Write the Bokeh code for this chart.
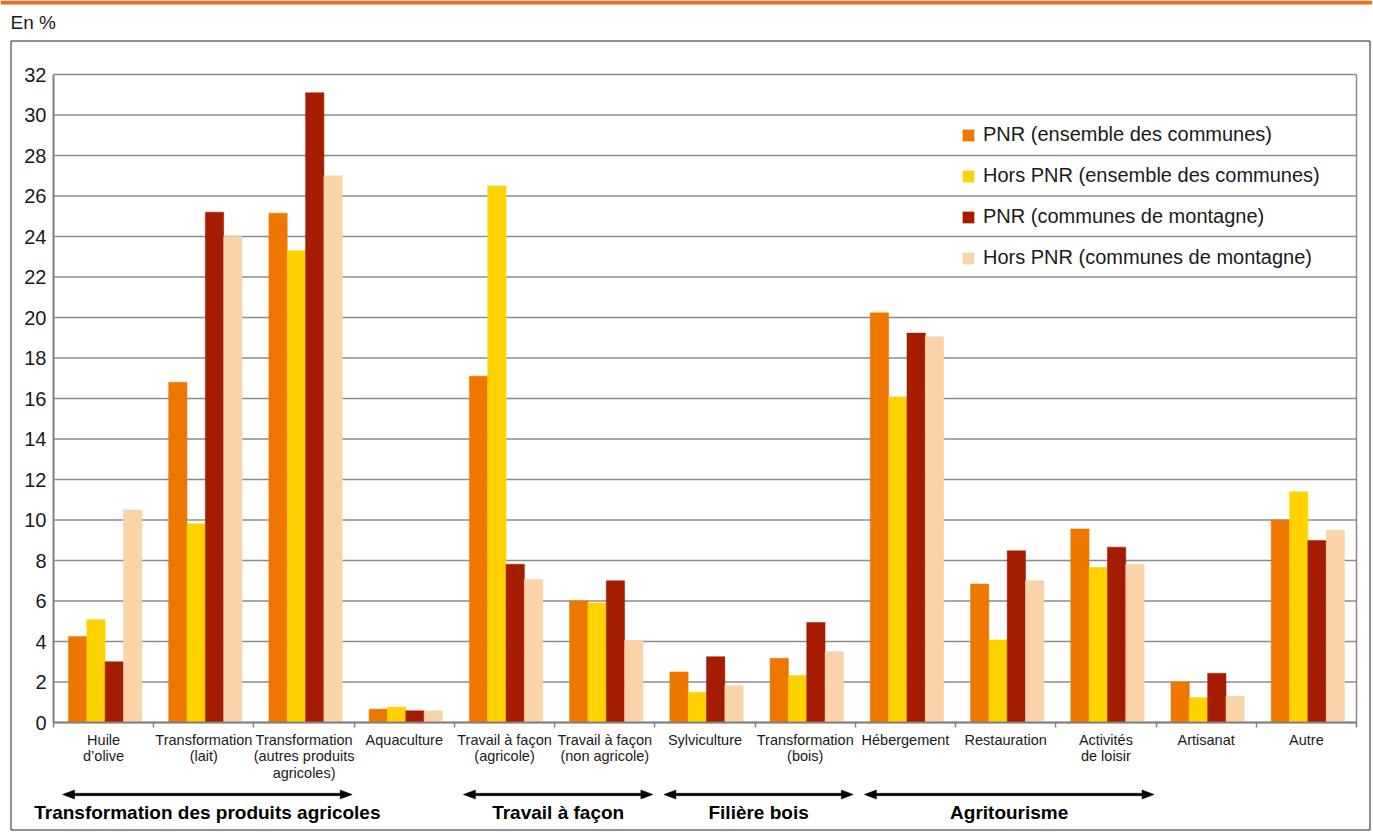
from bokeh.plotting import figure
from bokeh.models import FixedTicker, Legend, LegendItem, Range1d
from bokeh.core.properties import value
from bokeh.embed import file_html
from bokeh.resources import INLINE

# ---------------- data ----------------
categories = [
    "Huile\nd’olive",
    "Transformation\n(lait)",
    "Transformation\n(autres produits\nagricoles)",
    "Aquaculture",
    "Travail à façon\n(agricole)",
    "Travail à façon\n(non agricole)",
    "Sylviculture",
    "Transformation\n(bois)",
    "Hébergement",
    "Restauration",
    "Activités\nde loisir",
    "Artisanat",
    "Autre",
]

series_names = [
    "PNR (ensemble des communes)",
    "Hors PNR (ensemble des communes)",
    "PNR (communes de montagne)",
    "Hors PNR (communes de montagne)",
]
pnr_all = [4.25, 16.8, 25.15, 0.66, 17.1, 6.0, 2.5, 3.17, 20.23, 6.84, 9.56, 2.0, 10.0]
hors_all = [5.08, 9.82, 23.3, 0.76, 26.5, 5.9, 1.49, 2.32, 16.08, 4.08, 7.65, 1.23, 11.4]
pnr_mont = [3.0, 25.2, 31.1, 0.58, 7.82, 7.0, 3.25, 4.94, 19.23, 8.48, 8.66, 2.43, 8.99]
hors_mont = [10.5, 24.0, 27.0, 0.58, 7.06, 4.05, 1.82, 3.5, 19.05, 7.0, 7.8, 1.3, 9.5]
series_values = [pnr_all, hors_all, pnr_mont, hors_mont]
colors = ["#EE7700", "#FFD200", "#A51C00", "#FAD3A8"]

y_ticks = list(range(0, 33, 2))
y_max = 32

groups = ["Transformation des produits agricoles", "Travail à façon",
          "Filière bois", "Agritourisme"]
group_first = [0, 4, 6, 8]     # first category index of each group
group_last = [2, 5, 7, 10]     # last category index of each group

unit_label = "En %"

# ---------------- layout constants (pixels) ----------------
FONT = "Liberation Sans"
W, H = 1372, 838
n = len(categories)
PL, PT, PR, PB = 53, 74, 1356, 722          # plot area in canvas px
PXX = (PR - PL) / n                          # px per category
PXY = (PB - PT) / y_max                      # px per %


def dx(px):      # canvas x -> data x
    return (px - PL) / PXX


def dy(py):      # canvas y -> data y
    return (PB - py) / PXY


p = figure(width=W, height=H,
           x_range=Range1d(dx(0), dx(W)), y_range=Range1d(dy(H), dy(0)),
           output_backend="svg", toolbar_location=None,
           min_border_left=0, min_border_right=0,
           min_border_top=0, min_border_bottom=0)
p.background_fill_color = "white"
p.border_fill_color = "white"
p.outline_line_color = None
p.xgrid.visible = False
p.ygrid.visible = False

# top orange rule, unit label and outer frame
p.quad(left=dx(0), right=dx(W), top=dy(0), bottom=dy(4),
       fill_color="#EE6B22", line_color=None)
p.text(x=[dx(10)], y=[dy(22)], text=[unit_label], text_align="left",
       text_baseline="middle", text_font=value(FONT),
       text_font_size=value("19px"), text_color="#1a1a1a")
p.quad(left=dx(10.5), right=dx(1369.5), top=dy(40.5), bottom=dy(829.5),
       fill_alpha=0, line_color="#222222", line_width=1)

# horizontal grid lines over the plot area + right border
p.segment(x0=0, x1=n, y0=y_ticks, y1=y_ticks, line_color="#8c8c8c",
          line_width=1.5)
p.segment(x0=[n], x1=[n], y0=[0], y1=[y_max], line_color="#8a8a8a",
          line_width=1.5)

# ---- bars ----
bar_w = 0.183
offsets = [-1.5 * bar_w, -0.5 * bar_w, 0.5 * bar_w, 1.5 * bar_w]
centers = [i + 0.5 for i in range(n)]

items = []
for name, vals, col, off in zip(series_names, series_values, colors, offsets):
    r = p.vbar(x=[c + off + 0.015 for c in centers], top=vals, width=bar_w,
               bottom=0, fill_color=col, line_color=col, line_width=0.5)
    items.append(LegendItem(label=name, renderers=[r]))

# y axis drawn at x = 0
p.yaxis.fixed_location = 0
p.yaxis.bounds = (0, y_max)
p.yaxis.ticker = FixedTicker(ticks=y_ticks)
p.yaxis.axis_line_color = "#808080"
p.yaxis.axis_line_width = 2
p.yaxis.major_tick_line_color = None
p.yaxis.minor_tick_line_color = None
p.yaxis.major_tick_out = 0
p.yaxis.major_tick_in = 0
p.yaxis.major_label_text_font = FONT
p.yaxis.major_label_text_font_size = "20px"
p.yaxis.major_label_text_color = "#1a1a1a"
p.yaxis.major_label_standoff = 7

# x axis drawn at y = 0 : labels at centres, ticks at boundaries
p.xaxis.fixed_location = 0
p.xaxis.bounds = (0, n)
p.xaxis.ticker = FixedTicker(ticks=centers, minor_ticks=list(range(n + 1)))
p.xaxis.major_label_overrides = {c: lab for c, lab in zip(centers, categories)}
p.xaxis.axis_line_color = "#808080"
p.xaxis.axis_line_width = 2
p.xaxis.major_tick_line_color = None
p.xaxis.major_tick_out = 0
p.xaxis.major_tick_in = 0
p.xaxis.minor_tick_line_color = "#808080"
p.xaxis.minor_tick_line_width = 1.5
p.xaxis.minor_tick_out = 5
p.xaxis.minor_tick_in = 0
p.xaxis.major_label_text_font = FONT
p.xaxis.major_label_text_font_size = "14.5px"
p.xaxis.major_label_text_color = "#1a1a1a"
p.xaxis.major_label_text_line_height = 1.05
p.xaxis.major_label_standoff = 4

# ---- group arrows and labels ----
arrow_y = dy(794)
label_y = dy(812)
hl = 12 / PXX      # head length
hw = 4.5 / PXY     # head half width
sw = 1.2 / PXY     # shaft half width
arrow_xs, arrow_ys, lab_x = [], [], []
for a, b in zip(group_first, group_last):
    x0 = a + 0.09
    x1 = b + 1 - 0.02
    arrow_xs.append([x0, x0 + hl, x0 + hl, x1 - hl, x1 - hl, x1,
                     x1 - hl, x1 - hl, x0 + hl, x0 + hl])
    arrow_ys.append([arrow_y, arrow_y + hw, arrow_y + sw, arrow_y + sw,
                     arrow_y + hw, arrow_y, arrow_y - hw, arrow_y - sw,
                     arrow_y - sw, arrow_y - hw])
    lab_x.append((x0 + x1) / 2)
p.patches(xs=arrow_xs, ys=arrow_ys, fill_color="black", line_color="black",
          line_width=0.5)
p.text(x=lab_x, y=[label_y] * len(groups), text=groups, text_align="center",
       text_baseline="middle", text_font=value(FONT),
       text_font_size=value("19px"), text_font_style="bold",
       text_color="black")

# legend
legend = Legend(items=items, location=(961, 569),
                background_fill_alpha=0, border_line_alpha=0,
                glyph_width=14, glyph_height=14, label_height=22,
                spacing=18, padding=0, margin=0, label_standoff=8,
                label_text_font=FONT, label_text_font_size="20px",
                label_text_color="#1a1a1a")
p.add_layout(legend)

open("out.html", "w").write(file_html(p, INLINE))
